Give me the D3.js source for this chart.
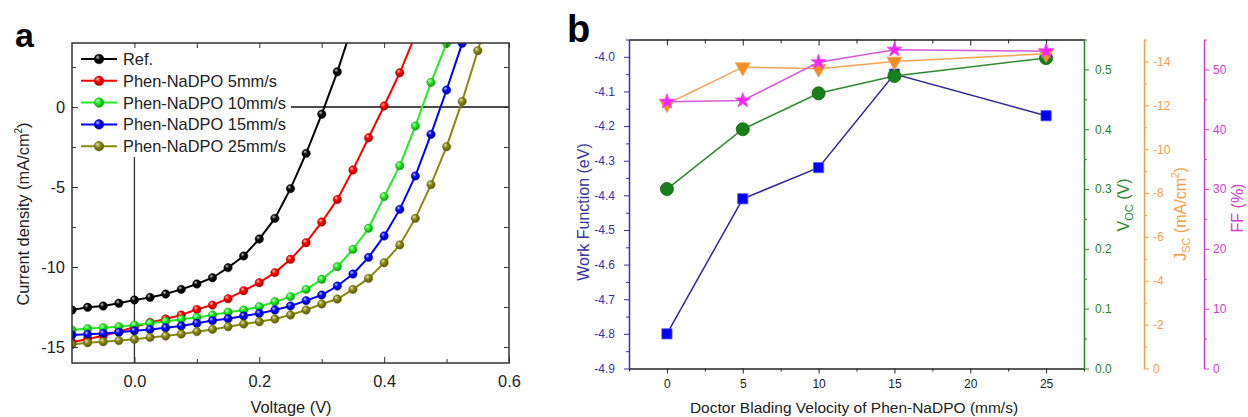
<!DOCTYPE html>
<html>
<head>
<meta charset="utf-8">
<script src="https://cdn.jsdelivr.net/npm/d3@7"></script>
<style>
  body { margin: 0; background: #fff; }
  svg { display: block; font-family: "Liberation Sans", Arial, sans-serif; }
</style>
</head>
<body>
<div id="chart"></div>
<script>
// ---- panel a : J-V curves ----
var voltage = [-0.1, -0.075, -0.05, -0.025, 0, 0.025, 0.05, 0.075, 0.1, 0.125, 0.15, 0.175, 0.2,
    0.225, 0.25, 0.275, 0.3, 0.325, 0.35, 0.375, 0.4, 0.425, 0.45, 0.475, 0.5, 0.525, 0.55, 0.575];
var seriesNames = ["Ref.", "Phen-NaDPO 5mm/s", "Phen-NaDPO 10mm/s", "Phen-NaDPO 15mm/s", "Phen-NaDPO 25mm/s"];
var jRef = [-12.69, -12.52, -12.44, -12.27, -12.06, -11.9, -11.69, -11.4, -11.06, -10.67, -10.04, -9.31,
    -8.25, -6.96, -5.1, -2.9, -0.45, 2.2, 5.2];
var j5 = [-14.7, -14.5, -14.3, -14.05, -13.75, -13.46, -13.25, -13.0, -12.65, -12.38, -11.98, -11.48,
    -10.98, -10.35, -9.52, -8.48, -7.19, -5.78, -3.94, -1.92, 0.06, 2.14, 4.5];
var j10 = [-13.94, -13.85, -13.8, -13.73, -13.63, -13.52, -13.4, -13.27, -13.15, -13.0, -12.83, -12.69,
    -12.48, -12.17, -11.85, -11.4, -10.77, -9.98, -8.9, -7.58, -5.6, -3.67, -1.19, 1.54, 3.98, 6.6];
var j15 = [-14.25, -14.21, -14.15, -14.08, -13.98, -13.9, -13.8, -13.69, -13.52, -13.35, -13.23, -13.06,
    -12.9, -12.69, -12.44, -12.1, -11.75, -11.19, -10.44, -9.4, -8.06, -6.4, -4.31, -1.71, 1.06, 3.98, 7.0];
var j25 = [-14.85, -14.73, -14.67, -14.6, -14.52, -14.4, -14.31, -14.19, -14.04, -13.9, -13.73, -13.56,
    -13.42, -13.25, -13.0, -12.69, -12.31, -12.0, -11.4, -10.71, -9.73, -8.62, -6.96, -4.85, -2.48, 0.35, 3.52, 6.8];
var colorsA = ["#000000", "#ff0000", "#22ee22", "#0000ff", "#8a8a10"];
var xTicksA = [0, 0.2, 0.4, 0.6];
var xMinorA = [0.1, 0.3, 0.5];
var yTicksA = [-15, -10, -5, 0];
var yMinorA = [-12.5, -7.5, -2.5, 2.5];

// ---- panel b : device parameters vs blading velocity ----
var velocity = [0, 5, 10, 15, 25];
var workFunction = [-4.80, -4.41, -4.32, -4.05, -4.17];
var voc = [0.30, 0.40, 0.46, 0.489, 0.519];
var jsc = [-12.06, -13.74, -13.67, -14.0, -14.35];
var ff = [44.6, 44.8, 51.2, 53.3, 53.05];
var xTicksB = [0, 5, 10, 15, 20, 25];
var xMinorB = [-2.5, 2.5, 7.5, 12.5, 17.5, 22.5, 27.5];
var wfTicks = [-4.9, -4.8, -4.7, -4.6, -4.5, -4.4, -4.3, -4.2, -4.1, -4.0];
var wfMinor = [-4.85, -4.75, -4.65, -4.55, -4.45, -4.35, -4.25, -4.15, -4.05, -3.95];
var vocTicks = [0, 0.1, 0.2, 0.3, 0.4, 0.5];
var vocMinor = [0.05, 0.15, 0.25, 0.35, 0.45, 0.55];
var jscTicks = [0, -2, -4, -6, -8, -10, -12, -14];
var jscMinor = [-1, -3, -5, -7, -9, -11, -13, -15];
var ffTicks = [0, 10, 20, 30, 40, 50];
var ffMinor = [5, 15, 25, 35, 45, 55];

var W = 1248, H = 417;
var svg = d3.select("#chart").append("svg").attr("width", W).attr("height", H);
svg.append("rect").attr("width", W).attr("height", H).attr("fill", "#fff");
var defs = svg.append("defs");

// =================== panel a ===================
var box = {left: 72, right: 509, top: 43, bottom: 363};
var xA = d3.scaleLinear().domain([-0.1, 0.6]).range([box.left, box.right]);
var yA = d3.scaleLinear().domain([-16, 4]).range([box.bottom, box.top]);

defs.append("clipPath").attr("id", "clipA").append("rect")
    .attr("x", box.left).attr("y", box.top)
    .attr("width", box.right - box.left).attr("height", box.bottom - box.top);

// shaded ball markers
colorsA.forEach(function(c, i) {
    var g = defs.append("radialGradient").attr("id", "ball" + i)
        .attr("cx", "0.4").attr("cy", "0.4").attr("r", "0.6").attr("fx", "0.35").attr("fy", "0.3");
    g.append("stop").attr("offset", "0%").attr("stop-color", d3.interpolateRgb(c, "#fff")(0.75));
    g.append("stop").attr("offset", "45%").attr("stop-color", c);
    g.append("stop").attr("offset", "100%").attr("stop-color", d3.interpolateRgb(c, "#000")(0.35));
});

var pa = svg.append("g");

// zero lines
pa.append("line").attr("x1", xA(0)).attr("x2", xA(0)).attr("y1", box.top).attr("y2", box.bottom)
    .attr("stroke", "#333").attr("stroke-width", 1.3);
pa.append("line").attr("x1", box.left).attr("x2", box.right).attr("y1", yA(0)).attr("y2", yA(0))
    .attr("stroke", "#111").attr("stroke-width", 1.3);

// legend background hides the zero lines
pa.append("rect").attr("x", box.left + 1).attr("y", box.top + 1).attr("width", 218).attr("height", 113)
    .attr("fill", "#fff");

var dataA = [jRef, j5, j10, j15, j25].map(function(arr) {
    return arr.map(function(j, k) { return {v: voltage[k], j: j}; });
});
var lineA = d3.line().x(function(d) { return xA(d.v); }).y(function(d) { return yA(d.j); });

var curves = pa.append("g").attr("clip-path", "url(#clipA)");
dataA.forEach(function(ser, i) {
    var g = curves.append("g");
    g.append("path").datum(ser).attr("d", lineA).attr("fill", "none")
        .attr("stroke", colorsA[i]).attr("stroke-width", 2);
    g.selectAll("circle").data(ser).enter().append("circle")
        .attr("cx", function(d) { return xA(d.v); })
        .attr("cy", function(d) { return yA(d.j); })
        .attr("r", 4.2)
        .attr("fill", "url(#ball" + i + ")")
        .attr("stroke", d3.interpolateRgb(colorsA[i], "#000")(0.3)).attr("stroke-width", 0.5);
});

// axes of panel a
var tickCol = "#333";
function styleAxis(g, col) {
    g.attr("color", col).select(".domain").remove();
    g.selectAll("text").attr("font-family", "Liberation Sans, Arial, sans-serif");
    return g;
}
styleAxis(pa.append("g").attr("transform", "translate(0," + box.bottom + ")")
    .call(d3.axisBottom(xA).tickValues(xTicksA).tickSize(-6).tickPadding(12)
        .tickFormat(function(d) { return d.toFixed(1); })), tickCol)
    .selectAll("text").attr("font-size", 16.4).attr("fill", "#222");
styleAxis(pa.append("g").attr("transform", "translate(0," + box.bottom + ")")
    .call(d3.axisBottom(xA).tickValues(xMinorA).tickSize(-4).tickFormat("")), tickCol);
styleAxis(pa.append("g").attr("transform", "translate(0," + box.top + ")")
    .call(d3.axisTop(xA).tickValues(xTicksA.concat(xMinorA)).tickSize(-5).tickFormat("")), tickCol);
styleAxis(pa.append("g").attr("transform", "translate(" + box.left + ",0)")
    .call(d3.axisLeft(yA).tickValues(yTicksA).tickSize(-6).tickPadding(7)
        .tickFormat(function(d) { return d < 0 ? "-" + (-d) : "" + d; })), tickCol)
    .selectAll("text").attr("font-size", 16.4).attr("fill", "#222");
styleAxis(pa.append("g").attr("transform", "translate(" + box.left + ",0)")
    .call(d3.axisLeft(yA).tickValues(yMinorA).tickSize(-4).tickFormat("")), tickCol);
styleAxis(pa.append("g").attr("transform", "translate(" + box.right + ",0)")
    .call(d3.axisRight(yA).tickValues(yTicksA.concat(yMinorA)).tickSize(-5).tickFormat("")), tickCol);

pa.append("rect").attr("x", box.left).attr("y", box.top)
    .attr("width", box.right - box.left).attr("height", box.bottom - box.top)
    .attr("fill", "none").attr("stroke", "#333").attr("stroke-width", 1.5);

// legend
var leg = pa.append("g");
seriesNames.forEach(function(name, i) {
    var y = 59 + i * 21.8;
    leg.append("line").attr("x1", 81).attr("x2", 117).attr("y1", y).attr("y2", y)
        .attr("stroke", colorsA[i]).attr("stroke-width", 2);
    leg.append("circle").attr("cx", 99).attr("cy", y).attr("r", 4.8)
        .attr("fill", "url(#ball" + i + ")")
        .attr("stroke", d3.interpolateRgb(colorsA[i], "#000")(0.3)).attr("stroke-width", 0.5);
    leg.append("text").attr("x", 123).attr("y", y).attr("dy", "0.36em")
        .attr("font-size", 16.4).attr("fill", "#222").text(name);
});

pa.append("text").attr("x", 291).attr("y", 413).attr("text-anchor", "middle")
    .attr("font-size", 16.4).attr("fill", "#222").text("Voltage (V)");
var yl = pa.append("text").attr("transform", "translate(29,214) rotate(-90)")
    .attr("text-anchor", "middle").attr("font-size", 16.4).attr("fill", "#222");
yl.append("tspan").text("Current density (mA/cm");
yl.append("tspan").attr("font-size", 10).attr("dy", -7).text("2");
yl.append("tspan").attr("dy", 7).text(")");

svg.append("text").attr("x", 15).attr("y", 47).attr("font-size", 34).attr("font-weight", "bold")
    .attr("fill", "#000").text("a");

// =================== panel b ===================
var bb = {left: 629, right: 1084, top: 39.5, bottom: 368.5};
var xB = d3.scaleLinear().domain([-2.5, 27.5]).range([bb.left, bb.right]);
var yWF = d3.scaleLinear().domain([-4.9, -3.95]).range([bb.bottom, bb.top]);
var yVoc = d3.scaleLinear().domain([0, 0.55]).range([bb.bottom, bb.top]);
var yJsc = d3.scaleLinear().domain([0, -15]).range([bb.bottom, bb.top]);
var yFF = d3.scaleLinear().domain([0, 55]).range([bb.bottom, bb.top]);

var pb = svg.append("g");
var colWF = "#3535a8", colVoc = "#2c842c", colJsc = "#f0a04a", colFF = "#d040d0";

function axisB(axis, tx, ty, col, size) {
    var g = pb.append("g").attr("transform", "translate(" + tx + "," + ty + ")").call(axis);
    g.attr("color", col);
    g.selectAll("text").attr("font-size", size || 12).attr("font-family", "Liberation Sans, Arial, sans-serif");
    return g;
}
var dash = function(d) { return d < 0 ? "-" + (-d) : "" + d; };
var dash1 = function(d) { return (d < 0 ? "-" : "") + Math.abs(d).toFixed(1); };

// bottom / top (black)
axisB(d3.axisBottom(xB).tickValues(xTicksB).tickSize(5).tickPadding(6).tickSizeOuter(0).tickFormat(dash), 0, bb.bottom, "#222")
    .select(".domain").attr("stroke-width", 1.5);
axisB(d3.axisBottom(xB).tickValues(xMinorB).tickSize(3).tickFormat(""), 0, bb.bottom, "#222").select(".domain").remove();
axisB(d3.axisTop(xB).tickValues(xTicksB).tickSize(-6).tickSizeOuter(0).tickFormat(""), 0, bb.top, "#222")
    .select(".domain").attr("stroke-width", 1.5);
axisB(d3.axisTop(xB).tickValues(xMinorB).tickSize(-4).tickFormat(""), 0, bb.top, "#222").select(".domain").remove();

// left work function axis
axisB(d3.axisLeft(yWF).tickValues(wfTicks).tickSize(5).tickPadding(9).tickSizeOuter(0).tickFormat(dash1), bb.left, 0, colWF)
    .select(".domain").attr("stroke-width", 1.5);
axisB(d3.axisLeft(yWF).tickValues(wfMinor).tickSize(3).tickFormat(""), bb.left, 0, colWF).select(".domain").remove();

// right Voc axis
axisB(d3.axisRight(yVoc).tickValues(vocTicks).tickSize(5).tickPadding(6).tickSizeOuter(0).tickFormat(dash1), bb.right, 0, colVoc)
    .select(".domain").attr("stroke-width", 1.5);
axisB(d3.axisRight(yVoc).tickValues(vocMinor).tickSize(3).tickFormat(""), bb.right, 0, colVoc).select(".domain").remove();

// offset Jsc axis
axisB(d3.axisRight(yJsc).tickValues(jscTicks).tickSize(5).tickPadding(4).tickSizeOuter(0).tickFormat(dash), 1144, 0, colJsc)
    .select(".domain").attr("stroke-width", 1.5);
axisB(d3.axisRight(yJsc).tickValues(jscMinor).tickSize(3).tickFormat(""), 1144, 0, colJsc).select(".domain").remove();

// offset FF axis
axisB(d3.axisRight(yFF).tickValues(ffTicks).tickSize(5).tickPadding(4).tickSizeOuter(0).tickFormat(dash), 1204, 0, colFF)
    .select(".domain").attr("stroke-width", 1.5);
axisB(d3.axisRight(yFF).tickValues(ffMinor).tickSize(3).tickFormat(""), 1204, 0, colFF).select(".domain").remove();

// series
var seriesB = [
    {vals: workFunction, y: yWF, line: "#2a2a9a", fill: "#0000f0", stroke: "#5a5aff", shape: "square"},
    {vals: voc, y: yVoc, line: "#2f8a2f", fill: "#17801a", stroke: "#0f6a12", shape: "circle"},
    {vals: jsc, y: yJsc, line: "#f2a552", fill: "#f48c22", stroke: "#f0a050", shape: "triangle"},
    {vals: ff, y: yFF, line: "#d859d8", fill: "#ff20ff", stroke: "#ee44ee", shape: "star"}
];
var symbolB = {
    square: d3.symbol(d3.symbolSquare, 105),
    circle: d3.symbol(d3.symbolCircle, 135),
    triangle: d3.symbol(d3.symbolTriangle, 95),
    star: d3.symbol(d3.symbolStar, 70)
};
seriesB.forEach(function(s) {
    var pts = s.vals.map(function(v, k) { return {x: velocity[k], v: v}; });
    var g = pb.append("g");
    g.append("path").datum(pts)
        .attr("d", d3.line().x(function(d) { return xB(d.x); }).y(function(d) { return s.y(d.v); }))
        .attr("fill", "none").attr("stroke", s.line).attr("stroke-width", 1.5);
    g.selectAll(".m").data(pts).enter().append("path")
        .attr("transform", function(d) {
            return "translate(" + xB(d.x) + "," + s.y(d.v) + ")" + (s.shape === "triangle" ? " rotate(180)" : "");
        })
        .attr("d", symbolB[s.shape])
        .attr("fill", s.fill).attr("stroke", s.stroke).attr("stroke-width", 0.8);
});

// axis titles panel b
pb.append("text").attr("x", 854).attr("y", 413).attr("text-anchor", "middle")
    .attr("font-size", 15.5).attr("fill", "#222").text("Doctor Blading Velocity of Phen-NaDPO (mm/s)");
pb.append("text").attr("transform", "translate(589,212) rotate(-90)").attr("text-anchor", "middle")
    .attr("font-size", 16).attr("fill", colWF).text("Work Function (eV)");
var tv = pb.append("text").attr("transform", "translate(1129,205) rotate(-90)").attr("text-anchor", "middle")
    .attr("font-size", 16).attr("fill", colVoc);
tv.append("tspan").text("V");
tv.append("tspan").attr("font-size", 11).attr("dy", 4).text("OC");
tv.append("tspan").attr("dy", -4).text(" (V)");
var tj = pb.append("text").attr("transform", "translate(1186,214) rotate(-90)").attr("text-anchor", "middle")
    .attr("font-size", 16).attr("fill", colJsc);
tj.append("tspan").text("J");
tj.append("tspan").attr("font-size", 11).attr("dy", 4).text("SC");
tj.append("tspan").attr("dy", -4).text(" (mA/cm");
tj.append("tspan").attr("font-size", 10).attr("dy", -7).text("2");
tj.append("tspan").attr("dy", 7).text(")");
pb.append("text").attr("transform", "translate(1243,208) rotate(-90)").attr("text-anchor", "middle")
    .attr("font-size", 16).attr("fill", colFF).text("FF (%)");

svg.append("text").attr("x", 567).attr("y", 42).attr("font-size", 38).attr("font-weight", "bold")
    .attr("fill", "#000").text("b");
</script>
</body>
</html>
